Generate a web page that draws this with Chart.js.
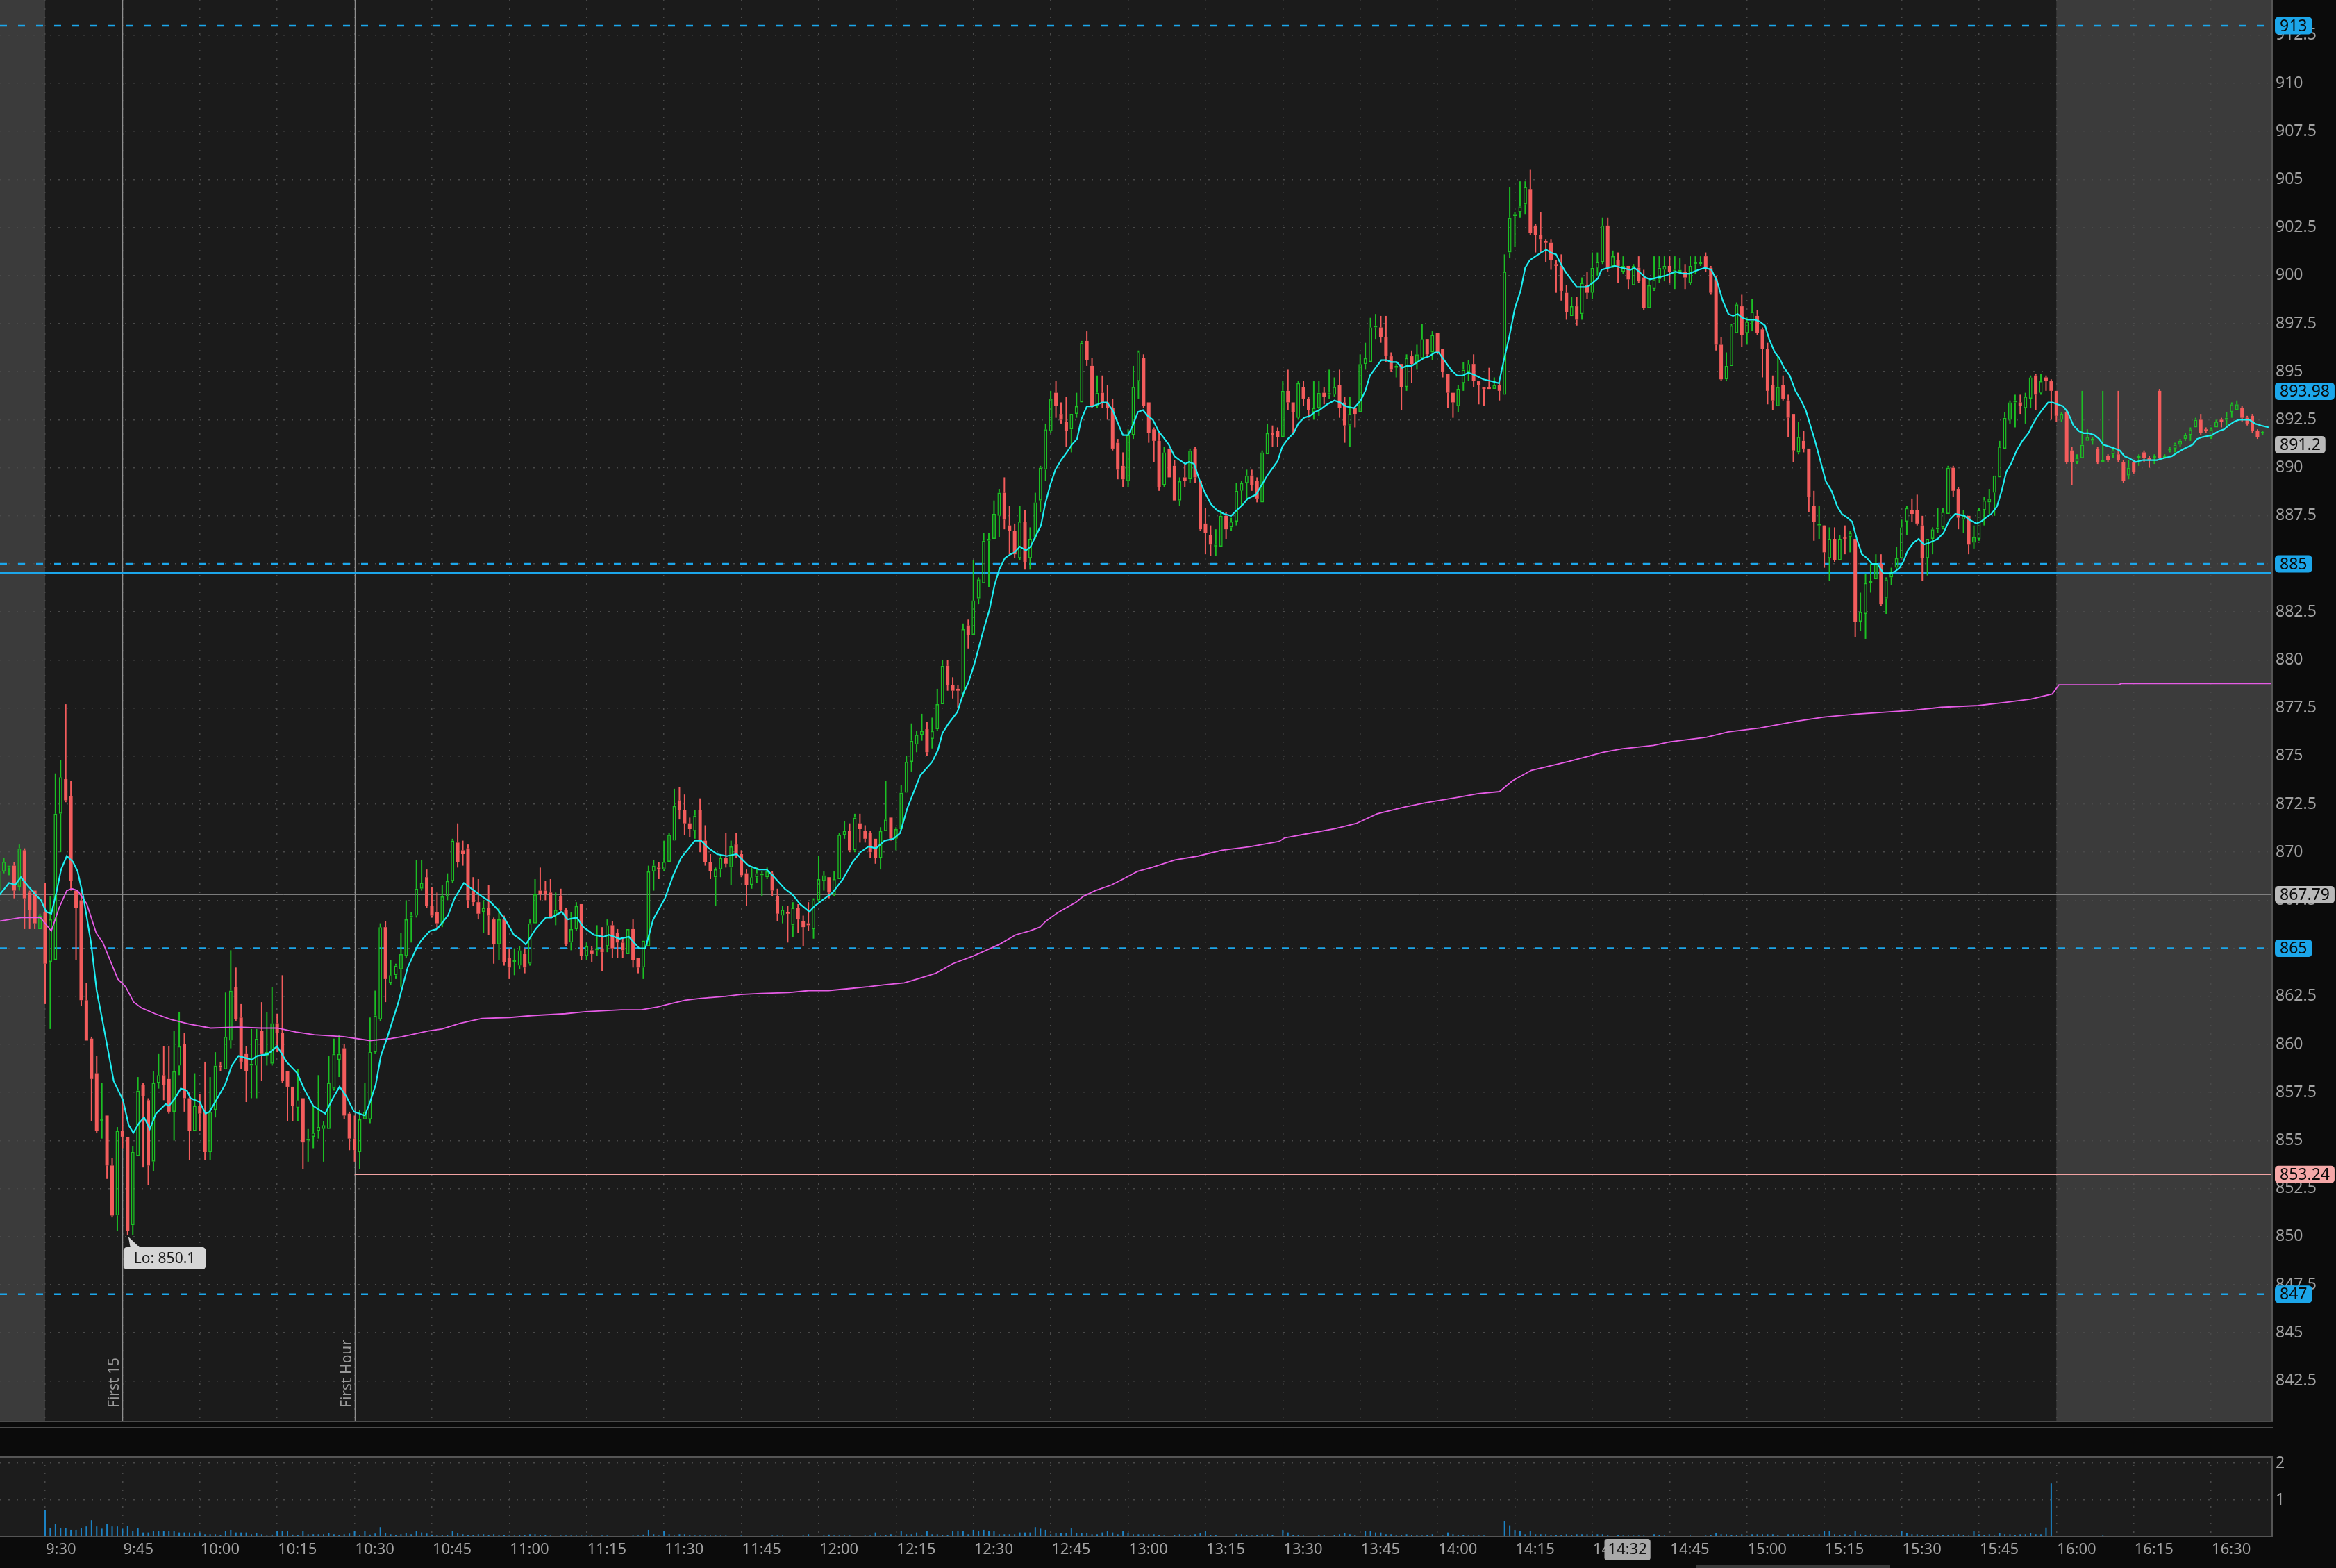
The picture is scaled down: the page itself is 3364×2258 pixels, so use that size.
<!DOCTYPE html>
<html>
<head>
<meta charset="utf-8">
<script src="https://cdn.jsdelivr.net/npm/chart.js@4.4.1/dist/chart.umd.min.js"></script>
<style>
  html, body { margin: 0; padding: 0; background: #0b0b0b; }
  body { width: 3364px; height: 2258px; position: relative; overflow: hidden; }
  canvas { position: absolute; left: 0; }
  #priceCanvas { top: 0; }
  #volumeCanvas { top: 2097px; }
  .rule { position: absolute; left: 0; width: 3273px; height: 2px; background: #4c4c4c; }
  .scroll { position: absolute; left: 2442px; top: 2253px; width: 280px; height: 5px; background: #3a3a3a; }
</style>
</head>
<body>
<canvas id="priceCanvas" width="3364" height="2046"></canvas>
<div class="rule" style="top:2046px"></div>
<div class="rule" style="top:2055px"></div>
<canvas id="volumeCanvas" width="3364" height="161"></canvas>
<div class="scroll"></div>
<script>
// 1-minute bars, first bar is 9:21 (minute -9 relative to the 9:30 open)
const firstMinute = -9;

const opens = [
  868.0, 869.0, 869.2, 869.3, 868.2, 870.1, 867.9, 868.0, 866.0,
  866.9, 864.3, 864.4, 872.0, 873.8, 872.9, 868.0, 867.5, 862.3, 860.3,
  858.5, 856.0, 856.3, 853.7, 851.1, 855.5, 855.2, 850.6, 854.2, 857.9,
  857.1, 853.9, 858.0, 858.4, 858.2, 856.5, 858.9, 860.0, 857.2, 855.5,
  856.8, 856.5, 854.4, 856.6, 858.9, 858.7, 860.2, 863.0, 861.4, 859.5,
  858.9, 858.9, 860.7, 859.4, 859.0, 861.1, 860.6, 858.6, 857.8, 856.7,
  857.2, 855.0, 855.2, 855.5, 855.6, 855.6, 857.7, 859.2, 859.8, 856.4,
  855.1, 854.4, 856.1, 856.1, 859.6, 861.3, 866.1, 863.2, 863.6, 863.9,
  864.6, 866.6, 866.7, 868.1, 868.7, 867.2, 866.9, 866.3, 867.7, 868.5,
  870.5, 870.1, 870.2, 868.0, 867.4, 866.9, 867.1, 866.5, 865.2, 866.5,
  864.5, 864.3, 864.1, 864.7, 864.2, 866.3, 868.0, 868.0, 867.9, 866.7,
  867.7, 867.0, 865.3, 866.0, 867.3, 864.6, 864.9, 864.9, 865.0, 865.1,
  866.2, 865.8, 865.3, 864.7, 866.0, 864.5, 864.0, 865.1, 869.0, 869.2,
  869.1, 869.5, 870.6, 872.7, 872.2, 871.5, 871.1, 872.2, 870.6, 869.5,
  868.7, 869.1, 869.7, 869.2, 870.4, 869.9, 868.9, 868.3, 868.7, 868.8,
  868.7, 868.9, 867.7, 866.7, 866.9, 866.2, 867.1, 866.4, 866.3, 866.0,
  867.5, 868.5, 868.7, 867.8, 868.6, 870.9, 871.1, 870.1, 871.5, 871.1,
  871.0, 870.7, 869.7, 871.1, 871.8, 870.7, 871.2, 873.1, 874.7, 875.6,
  876.1, 876.4, 875.9, 876.4, 877.7, 879.7, 878.7, 878.5, 878.2, 881.8,
  881.3, 883.2, 884.0, 886.2, 886.3, 887.5, 888.7, 887.0, 886.7, 885.3,
  887.2, 885.3, 886.4, 888.3, 889.9, 891.9, 893.9, 892.8, 892.4, 892.0,
  892.8, 893.4, 896.6, 895.3, 893.2, 893.9, 893.4, 893.1, 891.3, 890.1,
  889.3, 891.7, 894.5, 895.7, 893.4, 892.0, 891.4, 889.1, 891.0, 890.1,
  888.3, 889.5, 889.4, 891.0, 889.3, 887.1, 886.5, 885.9, 885.9, 887.5,
  886.9, 887.2, 888.8, 889.2, 889.6, 889.3, 888.2, 890.7, 891.8, 891.9,
  891.6, 894.0, 893.4, 892.6, 894.2, 893.6, 892.9, 893.1, 893.9, 893.8,
  893.8, 894.3, 893.4, 892.2, 893.1, 892.9, 895.4, 895.5, 897.3, 897.3,
  896.8, 895.8, 895.2, 895.4, 894.2, 895.8, 895.5, 895.7, 896.7, 896.0,
  897.0, 896.2, 894.9, 893.9, 893.2, 894.4, 895.0, 895.4, 894.5, 894.2,
  894.2, 894.1, 894.3, 893.8, 901.2, 903.1, 903.3, 903.7, 904.5, 902.6,
  902.1, 901.8, 901.7, 900.6, 900.5, 899.1, 897.9, 898.4, 898.0, 899.5,
  899.1, 900.4, 900.7, 902.6, 900.5, 900.8, 900.2, 900.5, 899.5, 900.4,
  899.9, 898.3, 899.3, 899.8, 900.3, 900.5, 900.1, 900.2, 900.2, 899.6,
  900.6, 900.6, 901.0, 900.4, 899.8, 896.4, 894.6, 895.3, 897.0, 898.4,
  897.0, 897.6, 897.9, 897.2, 896.2, 894.3, 893.2, 894.3, 893.5, 892.8,
  890.8, 891.4, 891.0, 888.0, 887.0, 887.0, 885.3, 886.3, 885.2, 886.4,
  886.4, 886.3, 882.0, 882.4, 884.0, 884.2, 885.0, 883.2, 884.3, 884.8,
  885.3, 887.2, 887.8, 887.8, 887.0, 885.3, 886.3, 886.8, 886.9, 887.6,
  890.0, 888.9, 887.3, 887.5, 886.1, 886.3, 887.8, 888.2, 888.7, 889.5,
  891.0, 892.5, 893.4, 893.4, 893.1, 893.6, 894.8, 893.9, 894.7, 894.5,
  894.0, 892.5, 892.9, 890.9, 890.3, 890.5, 891.4, 891.4, 891.0, 890.3,
  890.6, 890.7, 890.7, 890.3, 889.6, 890.3, 890.5, 890.8, 890.5, 890.5,
  894.0, 890.5, 890.9, 891.0, 891.2, 891.5, 891.7, 892.1, 892.5, 892.0,
  891.6, 892.1, 892.5, 892.5, 892.9, 893.0, 893.1, 892.6, 892.7, 891.9,
  891.8
];

const highs = [
  869.2, 869.7, 869.3, 869.5, 870.4, 870.2, 868.0, 868.0, 866.8,
  868.4, 867.7, 874.1, 874.8, 877.7, 873.7, 868.0, 868.0, 863.2, 860.4,
  859.4, 858.0, 856.3, 854.1, 855.7, 857.2, 855.2, 854.7, 858.3, 858.0,
  857.2, 858.6, 859.5, 859.9, 859.9, 860.7, 861.7, 860.6, 857.5, 858.5,
  857.4, 859.1, 858.3, 859.6, 859.1, 862.7, 864.9, 864.0, 862.1, 859.9,
  860.8, 860.8, 862.2, 861.7, 863.0, 861.6, 863.6, 858.6, 857.8, 858.7,
  857.2, 855.6, 856.8, 858.4, 856.0, 859.4, 860.3, 860.5, 860.0, 856.5,
  856.3, 856.6, 858.0, 861.4, 862.8, 866.3, 866.4, 864.4, 864.2, 865.8,
  867.5, 866.9, 869.6, 869.6, 869.1, 868.2, 867.9, 868.3, 868.9, 870.7,
  871.5, 870.6, 870.4, 868.7, 868.6, 867.5, 868.3, 866.6, 867.1, 866.7,
  865.0, 865.0, 865.1, 865.0, 866.5, 868.6, 869.2, 868.5, 868.6, 867.9,
  868.1, 867.1, 866.9, 867.4, 867.3, 865.3, 865.1, 866.2, 866.1, 866.5,
  866.4, 866.0, 865.6, 866.0, 866.5, 864.5, 865.4, 869.3, 869.6, 869.5,
  870.6, 871.0, 873.3, 873.4, 873.0, 871.8, 872.2, 872.8, 871.4, 869.9,
  869.2, 869.8, 871.0, 870.6, 871.0, 870.1, 869.1, 869.2, 869.2, 869.0,
  869.2, 869.0, 868.1, 867.2, 867.2, 867.4, 867.3, 866.7, 867.4, 867.6,
  869.8, 869.0, 868.7, 869.0, 871.0, 871.6, 871.5, 872.0, 872.0, 871.4,
  871.1, 870.7, 871.3, 873.7, 871.8, 871.3, 873.5, 875.0, 876.7, 876.3,
  877.2, 876.8, 877.0, 878.5, 880.0, 880.0, 879.1, 878.7, 881.9, 882.1,
  885.2, 884.3, 886.6, 886.6, 888.3, 888.9, 889.5, 888.0, 887.1, 888.0,
  887.8, 886.9, 888.7, 890.1, 892.3, 894.0, 894.5, 893.4, 893.7, 892.8,
  893.9, 896.6, 897.1, 895.7, 894.8, 894.8, 894.3, 893.6, 891.5, 890.8,
  892.0, 895.3, 896.1, 895.9, 893.4, 892.1, 891.9, 891.1, 891.0, 890.4,
  889.5, 890.2, 891.0, 891.1, 889.3, 887.9, 887.0, 886.8, 887.8, 887.7,
  887.4, 889.2, 889.3, 889.9, 889.9, 889.5, 890.9, 892.3, 892.2, 892.1,
  894.5, 895.1, 893.4, 894.5, 894.5, 893.7, 894.5, 894.5, 894.2, 895.1,
  894.7, 895.1, 893.7, 893.7, 893.1, 895.9, 896.5, 897.8, 898.0, 897.9,
  897.9, 896.0, 895.4, 895.4, 895.9, 896.1, 896.4, 897.5, 896.7, 897.1,
  897.0, 896.2, 894.9, 893.9, 894.3, 895.5, 895.6, 895.9, 894.5, 894.2,
  895.2, 894.7, 894.5, 901.1, 904.6, 903.3, 904.9, 904.9, 905.5, 902.7,
  903.3, 901.9, 901.9, 900.8, 901.1, 899.5, 898.9, 898.9, 899.9, 900.2,
  901.2, 901.2, 903.0, 903.0, 901.3, 901.2, 901.0, 900.5, 900.6, 901.0,
  900.3, 899.8, 901.0, 901.0, 901.0, 901.0, 901.0, 900.9, 900.6, 901.0,
  901.0, 901.0, 901.2, 900.5, 900.0, 896.8, 896.0, 897.5, 898.6, 899.0,
  897.8, 898.8, 898.2, 897.3, 896.5, 894.8, 895.8, 894.8, 893.8, 892.8,
  892.4, 891.9, 891.0, 888.8, 888.0, 887.0, 886.9, 886.9, 886.5, 887.0,
  886.7, 886.3, 883.5, 884.5, 885.0, 885.5, 885.5, 884.3, 884.8, 885.9,
  887.3, 888.0, 888.4, 888.6, 887.5, 886.3, 886.9, 887.9, 887.9, 890.1,
  890.1, 889.0, 887.8, 887.5, 887.0, 887.9, 888.5, 888.9, 889.6, 891.4,
  892.9, 893.5, 893.8, 893.8, 893.9, 894.8, 894.9, 894.9, 894.8, 894.6,
  894.0, 892.9, 893.0, 891.1, 890.7, 894.0, 892.0, 891.6, 891.1, 894.0,
  890.7, 891.0, 894.0, 890.4, 890.4, 890.4, 890.7, 890.9, 890.6, 890.7,
  894.1, 890.7, 891.1, 891.3, 891.5, 891.8, 892.1, 892.6, 892.8, 892.1,
  892.1, 892.5, 892.6, 892.9, 893.4, 893.5, 893.2, 892.7, 892.8, 892.0,
  891.9
];

const lows = [
  867.8, 868.9, 868.8, 867.6, 868.0, 866.0, 866.0, 866.0, 866.0,
  862.1, 860.8, 864.4, 870.0, 872.6, 868.0, 864.4, 862.0, 860.2, 856.0,
  855.4, 855.1, 853.0, 851.0, 850.3, 854.6, 850.1, 850.1, 854.2, 853.6,
  852.7, 853.4, 857.7, 857.1, 856.4, 855.0, 858.4, 856.5, 854.0, 855.5,
  855.5, 854.0, 854.0, 856.2, 858.6, 858.7, 859.8, 861.2, 858.7, 857.0,
  857.2, 857.2, 858.1, 858.9, 858.9, 859.6, 858.0, 856.0, 856.0, 856.0,
  853.5, 853.9, 854.6, 855.1, 853.9, 855.6, 857.6, 858.3, 856.1, 854.5,
  853.9, 853.5, 856.1, 855.9, 859.5, 861.2, 862.2, 863.1, 863.4, 863.0,
  864.5, 865.3, 866.6, 868.0, 867.1, 866.6, 866.0, 866.1, 867.5, 868.4,
  869.2, 869.3, 867.1, 867.2, 866.5, 865.8, 865.7, 864.2, 864.4, 864.1,
  863.4, 863.6, 863.9, 863.7, 864.1, 866.3, 867.5, 867.5, 866.6, 866.2,
  866.9, 865.1, 864.9, 865.9, 864.4, 864.4, 864.3, 864.6, 863.8, 864.8,
  864.5, 864.5, 864.5, 864.7, 864.0, 863.7, 863.4, 865.1, 868.0, 868.6,
  869.0, 869.5, 870.6, 871.7, 870.9, 870.8, 870.7, 870.0, 869.3, 868.6,
  867.2, 868.7, 869.2, 868.3, 869.7, 868.7, 867.2, 868.1, 868.4, 867.7,
  868.6, 867.7, 866.4, 866.3, 865.3, 865.6, 865.8, 865.1, 865.9, 865.5,
  867.4, 868.0, 867.6, 867.7, 868.6, 870.7, 870.0, 870.0, 870.5, 870.5,
  869.7, 869.4, 869.1, 871.1, 870.6, 870.1, 871.2, 873.1, 874.2, 875.2,
  875.8, 875.0, 875.4, 876.3, 877.7, 878.4, 878.0, 877.5, 878.1, 880.6,
  881.3, 882.9, 884.0, 883.8, 886.3, 886.4, 886.8, 885.5, 885.3, 885.2,
  884.7, 884.7, 886.3, 887.7, 889.3, 891.8, 892.6, 892.3, 891.1, 890.8,
  892.6, 893.4, 895.3, 893.1, 893.1, 893.1, 892.5, 890.9, 889.4, 889.0,
  889.0, 891.5, 893.6, 893.1, 891.3, 890.3, 888.8, 889.0, 889.5, 888.3,
  888.0, 889.0, 889.2, 889.2, 886.7, 885.5, 885.4, 885.4, 885.9, 886.3,
  886.7, 887.0, 888.0, 888.3, 888.8, 888.2, 888.2, 890.7, 891.1, 891.1,
  891.6, 893.0, 891.8, 892.5, 893.2, 892.6, 892.5, 892.7, 893.3, 893.6,
  893.7, 892.6, 891.3, 891.1, 892.1, 892.9, 895.1, 895.5, 896.7, 896.5,
  895.5, 895.0, 894.7, 893.0, 894.0, 894.4, 895.1, 895.7, 895.8, 895.6,
  895.9, 894.7, 893.1, 892.6, 892.9, 894.0, 894.5, 894.2, 893.3, 893.2,
  894.1, 894.1, 893.5, 893.8, 900.9, 901.5, 903.0, 903.2, 902.1, 901.2,
  901.2, 900.7, 900.3, 899.1, 898.7, 897.7, 897.9, 897.4, 897.7, 898.8,
  898.8, 900.0, 900.6, 900.2, 900.4, 899.6, 900.1, 899.3, 899.5, 899.6,
  898.2, 898.3, 899.2, 899.6, 899.7, 899.6, 899.3, 900.1, 899.3, 899.5,
  900.1, 900.5, 900.2, 899.0, 896.1, 894.5, 894.5, 895.3, 897.0, 896.3,
  896.4, 897.1, 896.9, 894.7, 893.3, 893.0, 893.2, 893.5, 891.6, 890.3,
  890.7, 890.8, 887.7, 886.2, 886.3, 884.8, 884.1, 885.1, 885.2, 885.5,
  885.6, 881.2, 881.5, 881.1, 883.5, 884.2, 882.8, 882.4, 883.9, 884.7,
  885.3, 886.5, 887.2, 887.0, 884.1, 884.4, 885.5, 886.6, 886.8, 887.6,
  888.5, 886.8, 886.6, 885.5, 885.8, 886.2, 887.0, 887.6, 887.5, 889.5,
  891.0, 892.3, 892.1, 892.8, 892.3, 893.1, 893.0, 893.8, 894.0, 892.5,
  892.4, 892.4, 890.2, 889.1, 890.2, 890.5, 891.4, 891.2, 890.2, 890.3,
  890.3, 890.5, 890.3, 889.2, 889.4, 889.7, 890.1, 890.3, 890.0, 890.2,
  890.4, 890.5, 890.8, 890.8, 891.1, 891.4, 891.4, 892.1, 891.7, 891.8,
  891.5, 892.1, 892.1, 892.2, 892.6, 893.0, 892.4, 892.2, 891.8, 891.5,
  891.7
];

const closes = [
  869.0, 869.5, 869.3, 868.0, 870.2, 867.6, 867.0, 866.3, 866.7,
  864.2, 866.5, 872.0, 873.9, 872.7, 868.5, 867.1, 862.3, 860.2, 858.2,
  855.5, 856.1, 853.7, 851.1, 855.5, 855.2, 850.3, 854.4, 857.6, 857.3,
  853.7, 858.0, 858.4, 857.9, 856.5, 858.6, 859.9, 857.2, 855.5, 856.8,
  856.4, 854.4, 856.5, 858.9, 858.8, 860.4, 862.8, 861.3, 859.1, 858.6,
  859.0, 860.3, 859.5, 859.6, 861.1, 860.6, 858.1, 857.8, 856.8, 857.1,
  854.9, 855.1, 855.4, 855.7, 855.8, 858.0, 859.5, 859.5, 856.3, 855.1,
  854.5, 856.1, 856.5, 859.6, 861.5, 866.1, 863.4, 863.6, 864.1, 864.7,
  866.5, 866.7, 868.1, 868.4, 867.2, 866.7, 866.3, 867.7, 868.5, 870.6,
  869.5, 869.9, 867.5, 867.4, 866.8, 867.1, 866.7, 865.2, 866.5, 864.3,
  864.0, 864.4, 864.9, 864.0, 866.3, 867.8, 867.8, 867.8, 866.6, 867.0,
  867.0, 865.2, 866.0, 867.2, 864.6, 865.1, 864.7, 865.0, 864.8, 866.2,
  865.0, 865.3, 864.9, 866.0, 864.4, 864.0, 865.4, 869.0, 869.3, 869.1,
  869.5, 870.9, 872.4, 872.2, 871.5, 871.2, 871.9, 870.6, 869.5, 869.0,
  869.1, 869.7, 869.4, 870.3, 869.9, 868.8, 868.3, 868.7, 868.9, 868.9,
  869.0, 868.0, 866.8, 867.0, 866.8, 867.1, 866.5, 866.1, 866.2, 867.5,
  868.6, 868.8, 867.9, 868.6, 870.9, 871.1, 870.1, 871.8, 871.2, 870.7,
  870.0, 869.7, 871.1, 871.7, 870.7, 871.2, 873.1, 874.7, 875.8, 876.1,
  876.3, 875.2, 876.3, 877.7, 879.7, 878.7, 878.4, 878.4, 881.6, 881.3,
  883.1, 884.2, 886.2, 886.3, 887.6, 888.7, 887.3, 886.7, 885.5, 887.2,
  885.1, 886.3, 888.2, 890.0, 892.0, 893.6, 893.2, 892.5, 891.9, 892.8,
  893.2, 896.5, 895.6, 893.2, 893.9, 893.4, 893.1, 891.0, 889.9, 889.4,
  891.7, 894.2, 896.0, 893.2, 891.8, 891.4, 889.0, 890.8, 889.5, 888.3,
  889.3, 889.3, 890.9, 889.5, 886.8, 886.6, 886.0, 886.0, 887.5, 886.8,
  887.2, 888.8, 889.2, 889.6, 889.1, 888.4, 890.8, 891.8, 891.7, 891.6,
  894.0, 893.4, 892.9, 894.4, 893.6, 893.0, 893.1, 893.9, 893.7, 893.9,
  894.2, 893.1, 892.2, 892.8, 892.8, 895.4, 895.7, 897.3, 897.4, 896.8,
  895.8, 895.1, 895.3, 894.2, 895.7, 895.4, 895.9, 896.7, 895.9, 896.9,
  896.0, 895.0, 893.9, 893.4, 894.1, 895.1, 895.4, 894.5, 894.3, 894.1,
  894.1, 894.3, 894.0, 900.2, 903.0, 903.2, 903.6, 904.6, 902.2, 902.1,
  901.9, 901.7, 900.8, 900.5, 899.2, 898.1, 898.4, 897.7, 899.6, 899.1,
  900.4, 900.7, 902.6, 900.4, 901.0, 900.5, 900.5, 899.8, 900.5, 899.7,
  898.3, 899.5, 899.8, 900.4, 900.5, 900.2, 900.3, 900.3, 899.9, 900.5,
  900.7, 900.7, 900.4, 899.1, 896.4, 894.6, 895.3, 897.4, 898.5, 896.9,
  897.6, 898.1, 897.0, 896.2, 894.0, 893.5, 894.2, 893.6, 892.6, 890.9,
  891.6, 891.0, 888.5, 887.2, 887.1, 885.6, 886.3, 885.2, 886.3, 886.3,
  886.6, 882.0, 882.5, 884.0, 884.1, 885.0, 882.9, 884.2, 884.5, 885.3,
  886.9, 887.9, 887.6, 887.1, 885.3, 886.3, 886.8, 886.9, 887.7, 890.0,
  888.8, 887.4, 887.5, 886.0, 886.4, 887.8, 888.3, 888.4, 889.6, 891.1,
  892.6, 893.4, 893.5, 893.2, 893.7, 894.7, 893.8, 894.5, 894.5, 894.0,
  892.7, 892.8, 890.3, 890.3, 890.5, 891.2, 891.6, 891.5, 890.3, 890.4,
  890.4, 890.9, 890.4, 889.3, 890.0, 889.8, 890.6, 890.5, 890.4, 890.6,
  890.5, 890.6, 891.0, 891.2, 891.4, 891.7, 892.0, 892.5, 891.8, 891.9,
  892.0, 892.4, 892.4, 892.6, 893.3, 893.3, 892.6, 892.3, 891.9, 891.6,
  891.85
];

const volumes = [
  0, 0, 0, 0, 0, 0, 0, 0, 0,
  0.72, 0.24, 0.34, 0.24, 0.24, 0.19, 0.19, 0.24, 0.28, 0.45,
  0.28, 0.22, 0.34, 0.28, 0.28, 0.22, 0.30, 0.17, 0.24, 0.12,
  0.12, 0.16, 0.16, 0.16, 0.16, 0.16, 0.12, 0.12, 0.12, 0.09,
  0.12, 0.07, 0.07, 0.07, 0.05, 0.16, 0.19, 0.12, 0.12, 0.12,
  0.07, 0.11, 0.07, 0.03, 0.06, 0.17, 0.16, 0.16, 0.06, 0.05,
  0.16, 0.07, 0.07, 0.07, 0.07, 0.11, 0.07, 0.05, 0.07, 0.09,
  0.16, 0.05, 0.16, 0.06, 0.09, 0.26, 0.11, 0.07, 0.05, 0.07,
  0.11, 0.07, 0.16, 0.12, 0.09, 0.06, 0.05, 0.05, 0.05, 0.16,
  0.11, 0.07, 0.05, 0.05, 0.07, 0.07, 0.05, 0.07, 0.05, 0.05,
  0.03, 0.03, 0.05, 0.05, 0.07, 0.07, 0.05, 0.05, 0.03, 0,
  0.03, 0.03, 0.03, 0.03, 0.03, 0.03, 0.03, 0, 0.03, 0.03,
  0, 0, 0, 0, 0.03, 0.03, 0.06, 0.19, 0.07, 0.03,
  0.16, 0.07, 0.03, 0.07, 0.07, 0.05, 0.03, 0.03, 0.03, 0.03,
  0.03, 0.03, 0.03, 0, 0, 0.03, 0, 0, 0, 0,
  0, 0.03, 0.03, 0.03, 0, 0, 0, 0.03, 0.07, 0,
  0, 0.03, 0.06, 0.03, 0.03, 0.03, 0.03, 0, 0, 0.03,
  0.03, 0.12, 0.03, 0.05, 0.07, 0.03, 0.16, 0.07, 0.07, 0.12,
  0.03, 0.16, 0.07, 0.07, 0.05, 0.05, 0.16, 0.16, 0.16, 0.07,
  0.19, 0.16, 0.19, 0.16, 0.16, 0.07, 0.07, 0.07, 0.07, 0.12,
  0.12, 0.12, 0.26, 0.22, 0.19, 0.07, 0.11, 0.11, 0.11, 0.24,
  0.11, 0.11, 0.11, 0.07, 0.07, 0.12, 0.16, 0.12, 0.07, 0.16,
  0.11, 0.07, 0.07, 0.07, 0.07, 0.07, 0.05, 0.03, 0, 0.05,
  0.07, 0.05, 0.05, 0.07, 0.11, 0.16, 0.05, 0.05, 0, 0,
  0, 0.07, 0.07, 0.05, 0.03, 0.05, 0.07, 0.07, 0.05, 0,
  0.19, 0.12, 0.05, 0.05, 0.03, 0, 0, 0.05, 0.05, 0,
  0.05, 0.07, 0.11, 0.07, 0.05, 0, 0.17, 0.16, 0.12, 0.12,
  0.07, 0.07, 0.05, 0.05, 0.07, 0.05, 0.05, 0.03, 0.05, 0.07,
  0, 0.03, 0.12, 0.07, 0.05, 0.05, 0.03, 0.03, 0.03, 0.03,
  0, 0, 0, 0.42, 0.31, 0.19, 0.16, 0.07, 0.16, 0.07,
  0.07, 0.07, 0.05, 0.05, 0.05, 0.07, 0.05, 0.07, 0.07, 0.07,
  0.07, 0.07, 0.07, 0.05, 0, 0.05, 0.03, 0.03, 0.03, 0.03,
  0.03, 0, 0.07, 0.05, 0.03, 0, 0, 0, 0, 0.03,
  0, 0, 0.03, 0.05, 0.11, 0.07, 0.07, 0.05, 0.05, 0.07,
  0.03, 0.07, 0.07, 0.07, 0.07, 0.07, 0.05, 0, 0.07, 0.07,
  0.07, 0.05, 0.05, 0.07, 0.07, 0.16, 0.16, 0.07, 0.05, 0.07,
  0.05, 0.16, 0.07, 0.05, 0.07, 0.05, 0.03, 0.03, 0.05, 0.03,
  0.16, 0.11, 0.07, 0.07, 0.05, 0.05, 0.05, 0.05, 0.05, 0.05,
  0.07, 0.07, 0.05, 0.03, 0.16, 0.07, 0.05, 0.07, 0.03, 0.11,
  0.07, 0.07, 0.05, 0.07, 0.07, 0.11, 0.07, 0.07, 0.25, 1.45,
  0, 0, 0, 0, 0, 0, 0, 0, 0, 0.03,
  0, 0, 0.01, 0, 0, 0, 0, 0, 0, 0,
  0, 0, 0, 0, 0, 0, 0, 0, 0, 0,
  0, 0, 0, 0, 0, 0, 0, 0, 0, 0,
  0
];

// cyan moving average, [minute, price]
const emaLine = [
  [-9.1, 867.7], [-7, 868.4], [-5.8, 868.3], [-4.7, 868.7], [-3.5, 868.3], [-1.9, 867.8], [-0.8, 867.5],
  [0.2, 866.9], [1.2, 866.8], [2.1, 867.8], [3.1, 869.1], [4.2, 869.8], [5.4, 869.5], [6.3, 869.0],
  [7.4, 867.7], [8.9, 865.3], [10, 862.8], [11.5, 860.7], [13.3, 858.1], [15.1, 857.1], [16.2, 855.8],
  [17.1, 855.4], [18.2, 855.9], [19.2, 856.2], [20.3, 855.6], [21.5, 856.4], [23.4, 856.9], [24, 856.8],
  [25.2, 857.2], [26.3, 857.7], [27.5, 857.6], [28.2, 857.2], [30, 857.0], [31.1, 856.4], [31.9, 856.5],
  [33.4, 857.2], [34.9, 857.9], [36.2, 858.9], [37.5, 859.4], [38.8, 859.3], [40.1, 859.2], [41.1, 859.4],
  [43.2, 859.5], [45, 859.9], [46.8, 859.1], [48.9, 858.5], [50.2, 857.7], [52, 856.8], [54.3, 856.4],
  [55.8, 857.2], [57.1, 857.8], [58.4, 857.3], [59.9, 856.5], [62, 856.3], [63, 857.0], [64.1, 857.9],
  [65.1, 859.4], [66.4, 860.4], [68.5, 862.2], [70.3, 864.0], [72, 865.0], [72.9, 865.4], [74.6, 865.9],
  [76, 866.0], [78.1, 866.7], [79.4, 867.6], [81.2, 868.4], [82.7, 868.1], [84.7, 867.7], [86.4, 867.4],
  [87.8, 867.0], [89.2, 866.5], [90.9, 865.7], [92, 865.5], [93.2, 865.2], [95.1, 866.0], [97.1, 866.6],
  [98.2, 866.6], [100.2, 866.9], [101.3, 866.5], [103.1, 866.6], [104.4, 866.1], [106.4, 865.7],
  [108.3, 865.6], [109.3, 865.7], [111.4, 865.5], [113.2, 865.6], [115.2, 865.0], [116.4, 865.0],
  [117.9, 866.5], [120.2, 867.6], [121.8, 868.8], [123.3, 869.7], [126, 870.6], [127.2, 870.6],
  [128.7, 870.2], [130.3, 869.9], [132.2, 869.8], [134.1, 869.9], [136.4, 869.3], [138.4, 869.1],
  [139.9, 869.1], [141.4, 868.7], [143.4, 868.1], [144.9, 867.8], [146.4, 867.3], [148.2, 866.9],
  [149.2, 867.2], [151.2, 867.6], [152.7, 867.9], [154.7, 868.6], [156.6, 869.5], [158.1, 870.0],
  [159.7, 870.3], [161.1, 870.2], [162.8, 870.6], [164.5, 870.7], [165.8, 871.0], [167.2, 872.3],
  [169.7, 874.0], [172, 874.7], [173.1, 875.3], [174, 876.2], [175.2, 876.7], [176.9, 877.3],
  [178.1, 878.3], [179, 878.8], [180.2, 879.8], [181.1, 880.7], [182, 881.6], [183.1, 882.6],
  [184.1, 883.9], [185, 884.7], [186.1, 885.3], [187.2, 885.5], [188, 885.6], [189, 885.9],
  [190.2, 885.7], [191.1, 885.9], [192, 886.4], [193.1, 887.0], [193.9, 888.1], [194.9, 889.1],
  [195.9, 889.9], [197, 890.4], [198.1, 890.8], [199.1, 891.2], [200.1, 891.5], [200.9, 892.5],
  [202, 893.2], [203.1, 893.2], [204.1, 893.3], [205, 893.4], [205.9, 893.4], [207, 893.0],
  [207.9, 892.4], [209, 891.7], [210, 891.7], [210.9, 892.2], [211.9, 892.9], [212.9, 893.0],
  [213.8, 892.7], [214.8, 892.5], [215.9, 891.9], [216.8, 891.6], [217.9, 891.2], [219, 890.6],
  [220, 890.4], [221.1, 890.2], [221.8, 890.3], [222.8, 890.2], [223.8, 889.4], [224.9, 888.7],
  [226.1, 888.1], [227.2, 887.8], [228.6, 887.6], [230, 887.5], [231.1, 887.8], [232.3, 888.1],
  [233.2, 888.4], [234.8, 888.6], [237, 889.6], [239, 890.35], [239.9, 891.1], [241, 891.5],
  [242.1, 891.8], [243, 892.3], [244.1, 892.6], [245.3, 892.7], [246.2, 892.9], [247.1, 893.0],
  [248.6, 893.3], [250, 893.5], [251.1, 893.4], [252.2, 893.2], [253.8, 893.1], [255.1, 893.5],
  [256, 894.0], [256.9, 894.8], [258, 895.2], [259.1, 895.6], [260.1, 895.6], [261, 895.5],
  [262.1, 895.5], [263.1, 895.2], [264.1, 895.3], [265, 895.3], [266.1, 895.5], [267.3, 895.7],
  [268.4, 895.8], [269.5, 896.0], [270.2, 896.0], [271.3, 895.6], [272.6, 895.1], [273.8, 894.8],
  [274.9, 894.8], [276, 894.95], [277.4, 894.8], [278.9, 894.6], [280.5, 894.5], [281.9, 894.4],
  [282.7, 895.4], [283.9, 896.8], [285, 898.3], [286.1, 899.2], [287, 900.4], [287.9, 900.8],
  [289, 901.0], [290.1, 901.2], [291.1, 901.35], [291.9, 901.2], [293, 901.1], [293.9, 900.6],
  [294.8, 900.2], [295.9, 899.8], [297, 899.4], [298, 899.4], [298.9, 899.4], [300, 899.6],
  [301.1, 899.85], [301.8, 900.3], [303.1, 900.4], [304.4, 900.5], [305.8, 900.4], [307.4, 900.3],
  [308.2, 900.4], [309.1, 900.2], [310.3, 899.9], [311.2, 899.8], [312.7, 899.9], [314.3, 900.0],
  [316.1, 900.2], [317.7, 900.1], [318.8, 900.1], [320.6, 900.3], [321.9, 900.4], [323.1, 900.3],
  [324.2, 899.7], [325.3, 898.7], [326.4, 898.0], [327.3, 897.9], [328.2, 898.0], [329.1, 897.8],
  [330.2, 897.7], [331.6, 897.7], [332.5, 897.6], [333.5, 897.4], [334.3, 896.7], [335.4, 896.0],
  [336.3, 895.7], [337.2, 895.2], [338.3, 894.8], [339.4, 894.0], [340.5, 893.5], [341.4, 893.0],
  [342.3, 892.2], [343.2, 891.4], [344.3, 890.3], [345.3, 889.3], [346.4, 888.8], [347.5, 888.0],
  [348.4, 887.6], [349.5, 887.4], [350.4, 887.2], [351.3, 886.3], [352.3, 885.5], [353.3, 885.3],
  [354.2, 885.0], [355.3, 885.0], [356.5, 884.5], [357.6, 884.5], [358.7, 884.6], [359.6, 884.8],
  [360.3, 885.1], [361.2, 885.7], [362.3, 886.1], [363.3, 886.3], [364.3, 886.0], [365.4, 886.1],
  [367, 886.3], [368.1, 886.6], [369.3, 887.3], [370.4, 887.6], [372.2, 887.5], [373.1, 887.3],
  [374.5, 887.1], [375.4, 887.2], [376.3, 887.4], [377.4, 887.6], [378.5, 888.0], [379.4, 888.8],
  [380.3, 889.8], [381.2, 890.2], [382.3, 890.9], [383.4, 891.4], [384.6, 891.8], [385.5, 892.3],
  [386.4, 892.7], [387.5, 893.1], [388.4, 893.4], [389.3, 893.4], [390.2, 893.3], [391.3, 893.2],
  [392.2, 892.9], [393.3, 892.2], [394.4, 891.9], [395.3, 891.8], [396.2, 891.8], [397.4, 891.7],
  [398.3, 891.5], [399.1, 891.2], [400.3, 891.1], [401.4, 891.0], [402.3, 890.9], [403.2, 890.6],
  [404.1, 890.5], [405.4, 890.3], [406.8, 890.4], [408.1, 890.4], [409.5, 890.4], [410.8, 890.5],
  [412.4, 890.6], [413.5, 890.8], [414.8, 891.0], [416.4, 891.2], [417.3, 891.5], [418.4, 891.6],
  [420.2, 891.7], [421.4, 891.9], [422.5, 892.0], [423.4, 892.2], [424.5, 892.4], [425.4, 892.5],
  [426.5, 892.5], [427.4, 892.5], [428.5, 892.3], [429.7, 892.2], [431.2, 892.1]
];

// magenta VWAP, [minute, price]
const vwapLine = [
  [-9.1, 866.4], [-4.7, 866.6], [-0.9, 866.6], [1.2, 865.9], [2.7, 867.1], [4.2, 868.0], [5.2, 868.1],
  [6.3, 868.0], [8.1, 867.3], [9.9, 865.8], [11.2, 865.3], [14.1, 863.4], [15.6, 863.0], [17.2, 862.2],
  [18.7, 861.9], [21.3, 861.6], [24.4, 861.3], [28, 861.05], [32.1, 860.85], [37.3, 860.9], [41.9, 860.85],
  [45, 860.85], [48.6, 860.65], [52.2, 860.5], [57.9, 860.4], [63, 860.2], [67, 860.3], [69.2, 860.4],
  [74.3, 860.7], [76.9, 860.8], [80.5, 861.1], [84.7, 861.35], [90.1, 861.4], [94.4, 861.5], [100.9, 861.6],
  [104.8, 861.7], [111.7, 861.8], [115.6, 861.8], [118.7, 861.95], [121, 862.1], [124.1, 862.3],
  [127.2, 862.4], [131.8, 862.5], [134.9, 862.6], [138.8, 862.65], [144.2, 862.7], [148.1, 862.8],
  [151.9, 862.8], [155.8, 862.9], [159.7, 863.0], [162.8, 863.1], [166.6, 863.2], [169.1, 863.4],
  [172.7, 863.7], [176, 864.2], [180, 864.6], [185, 865.2], [188.2, 865.7], [190.9, 865.9], [192.9, 866.1],
  [194, 866.4], [196.3, 866.85], [199.9, 867.4], [201.3, 867.7], [203.6, 868.0], [206.8, 868.3],
  [209, 868.6], [211.8, 869.0], [214.5, 869.2], [219.1, 869.6], [223.6, 869.8], [228.2, 870.1],
  [233.6, 870.28], [239.3, 870.56], [240.3, 870.74], [243.9, 870.92], [250.1, 871.22], [254.2, 871.49],
  [258.3, 872.0], [263.5, 872.34], [267.6, 872.57], [273.8, 872.85], [277.9, 873.05], [282, 873.15],
  [284.6, 873.73], [288.2, 874.26], [295.4, 874.72], [302.1, 875.2], [305.7, 875.38], [311.9, 875.56],
  [315, 875.74], [322.2, 875.98], [326.4, 876.26], [332.5, 876.46], [339.8, 876.82], [344.9, 877.03],
  [351.1, 877.18], [356.2, 877.27], [362.4, 877.39], [367.6, 877.54], [374.8, 877.63], [379.9, 877.79],
  [385.1, 877.97], [389.2, 878.23], [390.5, 878.71], [402, 878.71], [402.6, 878.77], [431.7, 878.77]
];

const priceTicks = [842.5, 845, 847.5, 850, 852.5, 855, 857.5, 860, 862.5, 865, 867.5, 870, 872.5, 875,
  877.5, 880, 882.5, 885, 887.5, 890, 892.5, 895, 897.5, 900, 902.5, 905, 907.5, 910, 912.5];
const timeLabels = ['9:30', '9:45', '10:00', '10:15', '10:30', '10:45', '11:00', '11:15', '11:30', '11:45',
  '12:00', '12:15', '12:30', '12:45', '13:00', '13:15', '13:30', '13:45', '14:00', '14:15', '14:30',
  '14:45', '15:00', '15:15', '15:30', '15:45', '16:00', '16:15', '16:30'];
const volumeTicks = [1, 2];

const dashedLevels = [913, 885, 865, 847];
const solidLevel = 884.55;
const firstHourLevel = 853.24;
const crosshairPrice = 867.79;
const crosshairMinute = 302;
const crosshairTime = '14:32';
const markers = [[15, 'First 15'], [60, 'First Hour']];
const sessionClose = 390;
const blueTags = [913, 893.98, 885, 865, 847];
const greyTags = [891.2, 867.79];
const pinkTags = [853.24];

// ---- look ----
const UP = '#1cbf24', DOWN = '#f35c5c', BLUE = '#1ca6ea', PINK = '#f2a3a3';
const CYAN = '#1eeef2', MAGENTA = '#e65ce6', VOL = '#1b82c4';
const PLOT_BG = '#1b1b1b', SHADE = '#3b3b3b', GRID = '#4a4a4a', TEXT = '#a2a2a2';
const X_MIN = -8.75, X_MAX = 431.7;
const Y_MIN = 840.42, Y_MAX = 914.335;
const AXIS_W = 93;

Chart.defaults.font.family = '"Noto Sans", sans-serif';

const xs = opens.map((_, i) => firstMinute + i);
const isUp = opens.map((o, i) => closes[i] >= o);
const bodies = xs.map((x, i) => ({x, y: [opens[i], closes[i]]}));
const upperWicks = xs.map((x, i) => ({x, y: [Math.max(opens[i], closes[i]), highs[i]]}));
const lowerWicks = xs.map((x, i) => ({x, y: [lows[i], Math.min(opens[i], closes[i])]}));
const candleColor = ctx => isUp[ctx.dataIndex] ? UP : DOWN;

const levelDataset = (value, color, width, dash, from) => ({
  type: 'line',
  data: [{x: from === undefined ? X_MIN : from, y: value}, {x: X_MAX, y: value}],
  borderColor: color, borderWidth: width, borderDash: dash || [],
  pointRadius: 0, order: 6
});
const wickDataset = data => ({
  type: 'bar', data, backgroundColor: candleColor, borderWidth: 0,
  grouped: false, maxBarThickness: 2, barPercentage: 1, categoryPercentage: 1,
  inflateAmount: 0, order: 3
});
const zeroPadding = s => { s.paddingTop = 0; s.paddingBottom = 0; s.paddingLeft = 0; s.paddingRight = 0; };

function line(ctx, x1, y1, x2, y2) {
  ctx.beginPath(); ctx.moveTo(x1, y1); ctx.lineTo(x2, y2); ctx.stroke();
}
function tag(ctx, x, y, text, bg) {
  ctx.font = '23px "Noto Sans"';
  const w = ctx.measureText(text).width + 14, h = 25;
  ctx.fillStyle = bg;
  ctx.beginPath(); ctx.roundRect(x, y - h / 2, w, h, 5); ctx.fill();
  ctx.fillStyle = '#0a0a0a';
  ctx.textAlign = 'left'; ctx.textBaseline = 'middle';
  ctx.fillText(text, x + 7, y + 1);
}

const priceDecor = {
  id: 'priceDecor',
  beforeDraw(chart) {
    const {ctx, chartArea: a, scales: {x}} = chart;
    ctx.save();
    ctx.fillStyle = PLOT_BG;
    ctx.fillRect(a.left, a.top, a.right - a.left, a.bottom - a.top);
    ctx.fillStyle = SHADE;
    const open = x.getPixelForValue(0), close = x.getPixelForValue(sessionClose);
    ctx.fillRect(a.left, a.top, open - a.left, a.bottom - a.top);
    ctx.fillRect(close, a.top, a.right - close, a.bottom - a.top);
    ctx.restore();
  },
  beforeDatasetsDraw(chart) {
    const {ctx, chartArea: a, scales: {x}} = chart;
    ctx.save();
    ctx.strokeStyle = '#8e8e8e'; ctx.lineWidth = 1.5;
    markers.forEach(([m]) => {
      const px = Math.round(x.getPixelForValue(m)) + 0.5;
      line(ctx, px, a.top, px, a.bottom);
    });
    ctx.strokeStyle = '#777'; ctx.lineWidth = 1;
    const cx = Math.round(x.getPixelForValue(crosshairMinute)) + 0.5;
    line(ctx, cx, a.top, cx, a.bottom);
    ctx.restore();
  },
  afterDraw(chart) {
    const {ctx, chartArea: a, scales: {x, y}} = chart;
    ctx.save();
    // marker captions
    ctx.fillStyle = '#9a9a9a'; ctx.font = '21px "Noto Sans"';
    ctx.textAlign = 'left'; ctx.textBaseline = 'alphabetic';
    markers.forEach(([m, label]) => {
      ctx.save();
      ctx.translate(x.getPixelForValue(m) - 5, a.bottom - 19);
      ctx.rotate(-Math.PI / 2);
      ctx.fillText(label, 0, 0);
      ctx.restore();
    });
    // right frame
    ctx.strokeStyle = '#555'; ctx.lineWidth = 2;
    line(ctx, a.right + 1, a.top, a.right + 1, a.bottom);
    // low of day callout
    const lo = Math.min(...lows);
    const li = lows.indexOf(lo);
    const px = x.getPixelForValue(xs[li]), py = y.getPixelForValue(lo);
    const text = 'Lo: ' + lo;
    ctx.font = '21px "Noto Sans"';
    const bw = ctx.measureText(text).width + 30, bh = 32, bx = px - 6, by = py + 18;
    ctx.fillStyle = '#d6d6d6';
    ctx.beginPath();
    ctx.moveTo(px + 1, py + 3); ctx.lineTo(bx + 24, by + 1); ctx.lineTo(bx + 10, by + 1); ctx.closePath();
    ctx.fill();
    ctx.beginPath(); ctx.roundRect(bx, by, bw, bh, 5); ctx.fill();
    ctx.fillStyle = '#1a1a1a'; ctx.textBaseline = 'middle';
    ctx.fillText(text, bx + 15, by + bh / 2 + 1);
    // price tags on the axis
    const tx = a.right + 5;
    blueTags.forEach(v => tag(ctx, tx, y.getPixelForValue(v), String(v), BLUE));
    greyTags.forEach(v => tag(ctx, tx, y.getPixelForValue(v), String(v), '#b9b9b9'));
    pinkTags.forEach(v => tag(ctx, tx, y.getPixelForValue(v), String(v), '#f5a8a8'));
    ctx.restore();
  }
};

new Chart(document.getElementById('priceCanvas'), {
  type: 'bar',
  data: {
    datasets: [
      ...dashedLevels.map(v => levelDataset(v, BLUE, 2.5, [10, 16])),
      levelDataset(solidLevel, BLUE, 3),
      levelDataset(firstHourLevel, PINK, 1.5, null, markers[1][0]),
      levelDataset(crosshairPrice, '#8a8a8a', 1),
      wickDataset(lowerWicks),
      wickDataset(upperWicks),
      {
        type: 'bar', data: bodies,
        backgroundColor: ctx => isUp[ctx.dataIndex] ? 'rgba(0,0,0,0)' : DOWN,
        borderColor: candleColor,
        borderWidth: ctx => isUp[ctx.dataIndex] ? 1.5 : 0,
        borderSkipped: false, minBarLength: 2,
        grouped: false, maxBarThickness: 5, barPercentage: 1, categoryPercentage: 1,
        inflateAmount: 0, order: 2
      },
      {
        type: 'line', data: vwapLine.map(([x, y]) => ({x, y})),
        borderColor: MAGENTA, borderWidth: 1.8, pointRadius: 0, tension: 0, order: 1
      },
      {
        type: 'line', data: emaLine.map(([x, y]) => ({x, y})),
        borderColor: CYAN, borderWidth: 2.2, pointRadius: 0, tension: 0, order: 0
      }
    ]
  },
  options: {
    responsive: false,
    animation: false,
    devicePixelRatio: 1,
    events: [],
    layout: {padding: 0},
    plugins: {legend: {display: false}, tooltip: {enabled: false}},
    scales: {
      x: {
        type: 'linear', min: X_MIN, max: X_MAX, offset: false,
        afterBuildTicks: s => { s.ticks = timeLabels.map((_, i) => ({value: i * 15})); },
        ticks: {display: false},
        grid: {color: GRID, lineWidth: 1.5, drawTicks: false, offset: false},
        border: {display: false, dash: [2, 10]},
        afterFit: s => { s.height = 0; zeroPadding(s); }
      },
      y: {
        position: 'right', min: Y_MIN, max: Y_MAX,
        afterBuildTicks: s => { s.ticks = priceTicks.map(v => ({value: v})); },
        ticks: {color: TEXT, font: {size: 23}, padding: 6, autoSkip: false, callback: v => String(v)},
        grid: {color: GRID, lineWidth: 1.5, drawTicks: false},
        border: {display: false, dash: [2, 10]},
        afterFit: s => { s.width = AXIS_W; zeroPadding(s); }
      }
    }
  },
  plugins: [priceDecor]
});

const volumeDecor = {
  id: 'volumeDecor',
  beforeDraw(chart) {
    const {ctx, chartArea: a} = chart;
    ctx.save();
    ctx.fillStyle = '#1c1c1c';
    ctx.fillRect(a.left, a.top, a.right - a.left, a.bottom - a.top);
    ctx.restore();
  },
  afterDraw(chart) {
    const {ctx, chartArea: a, scales: {x}} = chart;
    ctx.save();
    ctx.strokeStyle = '#555'; ctx.lineWidth = 2;
    line(ctx, a.left, a.top + 1, a.right + 2, a.top + 1);
    line(ctx, a.left, a.bottom, a.right + 2, a.bottom);
    line(ctx, a.right + 1, a.top, a.right + 1, a.bottom);
    const cx = Math.round(x.getPixelForValue(crosshairMinute)) + 0.5;
    ctx.strokeStyle = '#777'; ctx.lineWidth = 1;
    line(ctx, cx, a.top, cx, a.bottom);
    ctx.font = '22px "Noto Sans"';
    const w = ctx.measureText(crosshairTime).width + 10;
    ctx.fillStyle = '#a9a9a9';
    ctx.beginPath(); ctx.roundRect(cx + 2, a.bottom + 3, w, 31, 4); ctx.fill();
    ctx.fillStyle = '#111'; ctx.textAlign = 'left'; ctx.textBaseline = 'middle';
    ctx.fillText(crosshairTime, cx + 7, a.bottom + 19);
    ctx.restore();
  }
};

new Chart(document.getElementById('volumeCanvas'), {
  type: 'bar',
  data: {
    datasets: [{
      data: xs.map((x, i) => ({x, y: volumes[i]})),
      backgroundColor: VOL, borderWidth: 0,
      grouped: false, maxBarThickness: 2, barPercentage: 1, categoryPercentage: 1, inflateAmount: 0
    }]
  },
  options: {
    responsive: false,
    animation: false,
    devicePixelRatio: 1,
    events: [],
    layout: {padding: 0},
    plugins: {legend: {display: false}, tooltip: {enabled: false}},
    scales: {
      x: {
        type: 'linear', min: X_MIN, max: X_MAX, offset: false,
        afterBuildTicks: s => { s.ticks = timeLabels.map((_, i) => ({value: i * 15})); },
        ticks: {color: TEXT, font: {size: 22}, align: 'start', labelOffset: 1, padding: 6,
          autoSkip: false, maxRotation: 0, callback: (v, i) => timeLabels[i]},
        grid: {color: GRID, lineWidth: 1.5, drawTicks: false, offset: false},
        border: {display: false, dash: [2, 10]},
        afterFit: s => { s.height = 45; zeroPadding(s); }
      },
      y: {
        position: 'right', min: 0, max: 2.19,
        afterBuildTicks: s => { s.ticks = volumeTicks.map(v => ({value: v})); },
        ticks: {color: TEXT, font: {size: 23}, padding: 6, autoSkip: false, callback: v => String(v)},
        grid: {color: GRID, lineWidth: 1.5, drawTicks: false},
        border: {display: false, dash: [2, 10]},
        afterFit: s => { s.width = AXIS_W; zeroPadding(s); }
      }
    }
  },
  plugins: [volumeDecor]
});
</script>
</body>
</html>
